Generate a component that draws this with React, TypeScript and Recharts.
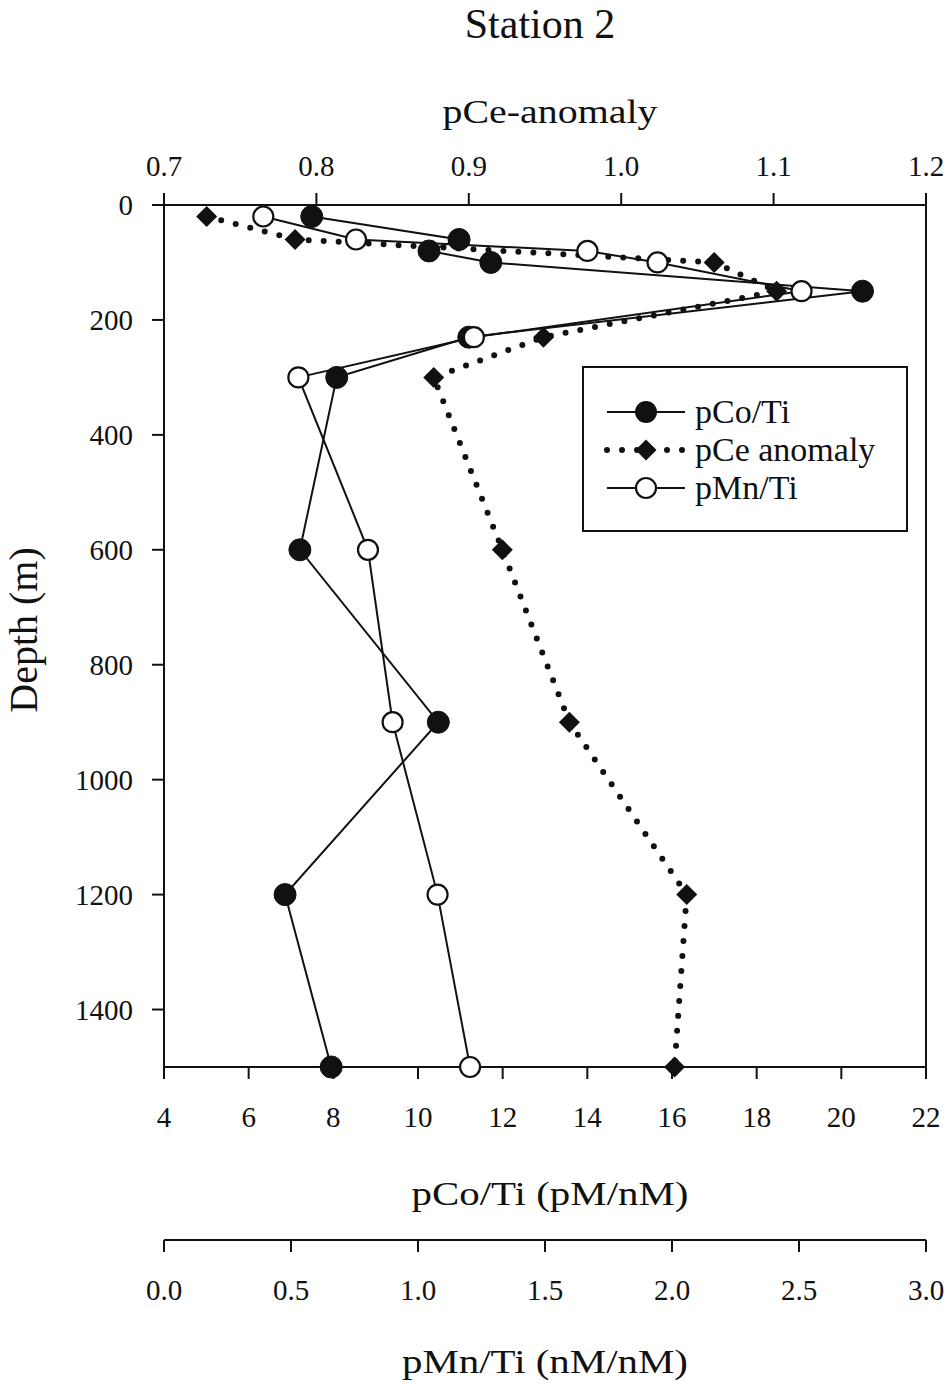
import React from 'react';
import { LineChart, Line, XAxis, YAxis, ReferenceLine, Legend, Label } from 'recharts';

// ---- data ----
const depths = [20, 60, 80, 100, 150, 230, 300, 600, 900, 1200, 1500];
const pCoTi = [7.49, 10.97, 10.26, 11.72, 20.5, 11.2, 8.08, 7.21, 10.48, 6.86, 7.95];
const pCeAnomaly: (number | null)[] = [0.728, 0.786, null, 1.061, 1.102, 0.949, 0.877, 0.922, 0.966, 1.043, 1.035];
const pMnTi = [0.391, 0.756, 1.667, 1.943, 2.51, 1.22, 0.529, 0.803, 0.9, 1.077, 1.205];

const depthTicks = [0, 200, 400, 600, 800, 1000, 1200, 1400];
const coTicks = [4, 6, 8, 10, 12, 14, 16, 18, 20, 22];
const mnTicks = [0, 0.5, 1.0, 1.5, 2.0, 2.5, 3.0];
const ceTicks = [0.7, 0.8, 0.9, 1.0, 1.1, 1.2];

const seriesNames = ['pCo/Ti', 'pCe anomaly', 'pMn/Ti'];
const chartTitle = 'Station 2';
const ceTitle = 'pCe-anomaly';
const coTitle = 'pCo/Ti (pM/nM)';
const mnTitle = 'pMn/Ti (nM/nM)';
const depthTitle = 'Depth (m)';

const data = depths.map((d, i) => ({ depth: d, co: pCoTi[i], ce: pCeAnomaly[i], mn: pMnTi[i] }));

const FONT = "'Liberation Serif', 'Times New Roman', serif";
const INK = '#111';

const fmt1 = (v: number) => v.toFixed(1);

const FilledDot = (p: any) =>
  p.cx == null || p.cy == null ? null : (
    <circle key={`co-${p.index}`} cx={p.cx} cy={p.cy} r={11} fill={INK} stroke={INK} strokeWidth={1} />
  );
const OpenDot = (p: any) =>
  p.cx == null || p.cy == null ? null : (
    <circle key={`mn-${p.index}`} cx={p.cx} cy={p.cy} r={10} fill="#fff" stroke={INK} strokeWidth={2.2} />
  );
const DiamondDot = (p: any) => {
  if (p.cx == null || p.cy == null || p.value == null) return null;
  const s = 10.5;
  return (
    <path
      key={`ce-${p.index}`}
      d={`M${p.cx},${p.cy - s}L${p.cx + s},${p.cy}L${p.cx},${p.cy + s}L${p.cx - s},${p.cy}Z`}
      fill={INK}
    />
  );
};

const axisLine = { stroke: INK, strokeWidth: 2 };
const tickStyle = { fill: INK, fontSize: 29, fontFamily: FONT };

const LegendBox = () => {
  const rows = [46, 84, 122];
  return (
    <svg width={326} height={166} style={{ display: 'block' }}>
      <rect x={1} y={1} width={324} height={164} fill="#fff" stroke={INK} strokeWidth={2} />
      {/* pCo/Ti */}
      <line x1={25} x2={103} y1={rows[0]} y2={rows[0]} stroke={INK} strokeWidth={2} />
      <circle cx={64} cy={rows[0]} r={11} fill={INK} />
      {/* pCe anomaly */}
      <line x1={25} x2={103} y1={rows[1]} y2={rows[1]} stroke={INK} strokeWidth={6} strokeDasharray="0 15" strokeLinecap="round" />
      <path d={`M64,${rows[1] - 10.5}L74.5,${rows[1]}L64,${rows[1] + 10.5}L53.5,${rows[1]}Z`} fill={INK} />
      {/* pMn/Ti */}
      <line x1={25} x2={103} y1={rows[2]} y2={rows[2]} stroke={INK} strokeWidth={2} />
      <circle cx={64} cy={rows[2]} r={10} fill="#fff" stroke={INK} strokeWidth={2.2} />
      {seriesNames.map((n, i) => (
        <text key={n} x={113} y={rows[i] + 11} fontSize={34} fontFamily={FONT} fill={INK}>
          {n}
        </text>
      ))}
    </svg>
  );
};

const TopLabel = (props: any) => {
  const vb = props.viewBox || { x: 164, y: 0, width: 762, height: 205 };
  const cx = vb.x + vb.width / 2;
  return (
    <g>
      <text x={cx - 5} y={vb.y + 38} textAnchor="middle" fontSize={42} fontFamily={FONT} fill={INK}>
        {chartTitle}
      </text>
      <text
        x={cx + 5}
        y={vb.y + 123}
        textAnchor="middle"
        fontSize={34}
        fontFamily={FONT}
        fill={INK}
        textLength={215}
        lengthAdjust="spacingAndGlyphs"
      >
        {ceTitle}
      </text>
    </g>
  );
};

const CoLabel = (props: any) => {
  const vb = props.viewBox || { x: 164, y: 1067, width: 762, height: 173 };
  return (
    <text
      x={vb.x + vb.width / 2 + 5}
      y={vb.y + 138}
      textAnchor="middle"
      fontSize={34}
      fontFamily={FONT}
      fill={INK}
      textLength={277}
      lengthAdjust="spacingAndGlyphs"
    >
      {coTitle}
    </text>
  );
};

const MnLabel = (props: any) => {
  const vb = props.viewBox || { x: 164, y: 1240, width: 762, height: 149 };
  return (
    <text
      x={vb.x + vb.width / 2}
      y={vb.y + 133}
      textAnchor="middle"
      fontSize={34}
      fontFamily={FONT}
      fill={INK}
      textLength={286}
      lengthAdjust="spacingAndGlyphs"
    >
      {mnTitle}
    </text>
  );
};

const DepthLabel = (props: any) => {
  const vb = props.viewBox || { x: 0, y: 205, width: 164, height: 862 };
  const cy = vb.y + vb.height / 2 - 6;
  return (
    <text
      x={23}
      y={cy}
      transform={`rotate(-90 23 ${cy})`}
      textAnchor="middle"
      dominantBaseline="central"
      fontSize={40}
      fontFamily={FONT}
      fill={INK}
    >
      {depthTitle}
    </text>
  );
};

export default function App() {
  return (
    <div style={{ position: 'absolute', left: 0, top: 0, width: 950, height: 1389, background: '#fff' }}>
      <LineChart
        width={950}
        height={1389}
        data={data}
        layout="vertical"
        margin={{ top: 0, right: 24, bottom: 0, left: 0 }}
      >
        <YAxis
          type="number"
          dataKey="depth"
          domain={[0, 1500]}
          ticks={depthTicks}
          interval={0}
          width={164}
          tickSize={12}
          tickMargin={19}
          axisLine={axisLine}
          tickLine={axisLine}
          tick={tickStyle}
        >
          <Label content={DepthLabel} />
        </YAxis>
        <XAxis
          xAxisId="ce"
          orientation="top"
          type="number"
          domain={[0.7, 1.2]}
          ticks={ceTicks}
          interval={0}
          height={205}
          tickSize={12}
          tickMargin={17}
          tickFormatter={fmt1}
          axisLine={axisLine}
          tickLine={axisLine}
          tick={tickStyle}
        >
          <Label content={TopLabel} />
        </XAxis>
        <XAxis
          xAxisId="co"
          orientation="bottom"
          type="number"
          domain={[4, 22]}
          ticks={coTicks}
          interval={0}
          height={173}
          tickSize={12}
          tickMargin={27}
          axisLine={axisLine}
          tickLine={axisLine}
          tick={tickStyle}
        >
          <Label content={CoLabel} />
        </XAxis>
        <XAxis
          xAxisId="mn"
          orientation="bottom"
          type="number"
          domain={[0, 3]}
          ticks={mnTicks}
          interval={0}
          height={149}
          tickSize={12}
          tickMargin={27}
          tickFormatter={fmt1}
          axisLine={axisLine}
          tickLine={axisLine}
          tick={tickStyle}
        >
          <Label content={MnLabel} />
        </XAxis>
        <ReferenceLine xAxisId="co" x={22} stroke={INK} strokeWidth={2} />
        <Line
          xAxisId="ce"
          dataKey="ce"
          name={seriesNames[1]}
          stroke={INK}
          strokeWidth={6}
          strokeDasharray="0 15"
          strokeLinecap="round"
          connectNulls
          dot={DiamondDot}
          activeDot={false}
          isAnimationActive={false}
        />
        <Line
          xAxisId="co"
          dataKey="co"
          name={seriesNames[0]}
          stroke={INK}
          strokeWidth={2}
          dot={FilledDot}
          activeDot={false}
          isAnimationActive={false}
        />
        <Line
          xAxisId="mn"
          dataKey="mn"
          name={seriesNames[2]}
          stroke={INK}
          strokeWidth={2}
          dot={OpenDot}
          activeDot={false}
          isAnimationActive={false}
        />
        <Legend
          layout="vertical"
          verticalAlign="middle"
          align="center"
          content={LegendBox}
          wrapperStyle={{ position: 'absolute', left: 582, top: 366, width: 326, height: 166 }}
        />
      </LineChart>
    </div>
  );
}
